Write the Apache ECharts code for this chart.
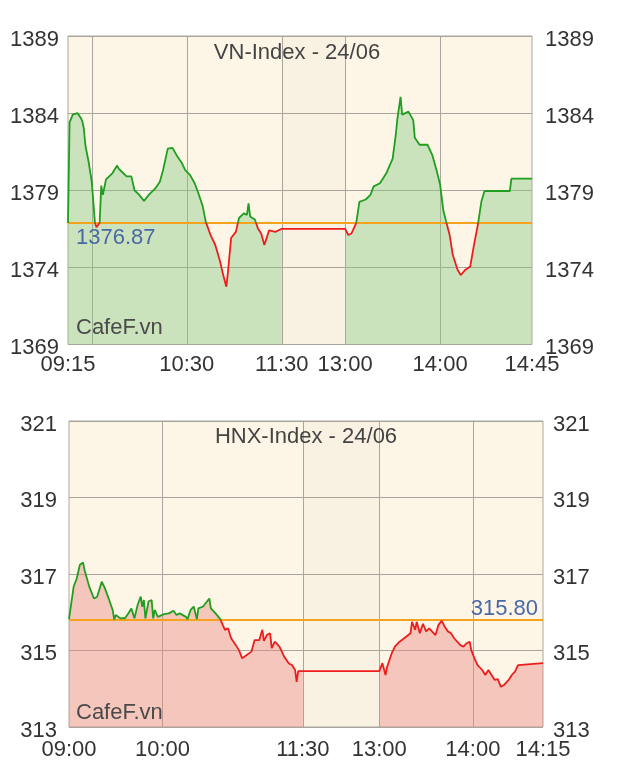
<!DOCTYPE html>
<html><head><meta charset="utf-8">
<script src="https://cdn.jsdelivr.net/npm/echarts@6/dist/echarts.min.js"></script>
<style>html,body{margin:0;padding:0;background:#fff}#c{width:627px;height:782px}</style>
</head><body><div id="c"></div>
<script>
// ---------- VN-Index ----------
const vnTitle = 'VN-Index - 24/06';
const vnRef = 1376.87;
const vnTimes = ['09:15','09:16','09:18','09:21','09:23','09:24','09:25','09:26','09:28','09:30','09:31','09:32','09:33','09:34','09:35','09:36','09:37','09:39','09:43','09:46','09:47','09:49','09:52','09:55','09:57','10:00','10:03','10:06','10:10','10:13','10:15','10:18','10:21','10:24','10:27','10:29','10:32','10:35','10:37','10:40','10:42','10:45','10:48','10:51','10:53','10:55','10:56','10:58','11:01','11:03','11:06','11:08','11:09','11:10','11:13','11:15','11:17','11:19','11:22','11:26','11:30',
  '13:00','13:02','13:04','13:07','13:09','13:13','13:16','13:18','13:22','13:26','13:30','13:32','13:33','13:35','13:36','13:40','13:43','13:44','13:47','13:52','13:55','13:58','14:00','14:02','14:04','14:06','14:08','14:11','14:13','14:16','14:19','14:21','14:24','14:26','14:28','14:44','14:45','14:58'];
const vnValues = [1376.87,1383.4,1383.9,1384.0,1383.7,1383.5,1383.0,1381.9,1380.85,1379.55,1378.25,1376.9,1376.6,1376.7,1376.9,1379.3,1378.7,1379.7,1380.1,1380.6,1380.4,1380.2,1379.9,1379.9,1379.0,1378.7,1378.3,1378.7,1379.1,1379.55,1380.3,1381.7,1381.75,1381.2,1380.75,1380.3,1380.0,1379.45,1378.9,1378.0,1376.95,1376.1,1375.45,1374.4,1373.5,1372.75,1373.7,1375.9,1376.3,1377.2,1377.5,1377.4,1378.15,1377.3,1377.1,1376.5,1376.2,1375.45,1376.4,1376.3,1376.5,
  1376.5,1376.1,1376.2,1376.87,1378.25,1378.4,1378.7,1379.25,1379.45,1380.1,1381.05,1382.6,1383.65,1385.05,1383.9,1384.1,1383.55,1382.4,1381.95,1381.95,1381.3,1380.2,1379.35,1377.7,1376.87,1376.1,1374.8,1373.85,1373.5,1373.85,1374.05,1375.25,1376.87,1378.25,1378.95,1378.95,1379.75,1379.75];
const vnYTicks = [1369,1374,1379,1384,1389];
const vnGridTimes = ['09:30','10:30','11:30','13:00','14:00'];
const vnLabelTimes = ['09:15','10:30','11:30','13:00','14:00','14:58'];
const vnLabelTexts = ['09:15','10:30','11:30','13:00','14:00','14:45'];

// ---------- HNX-Index ----------
const hnxTitle = 'HNX-Index - 24/06';
const hnxRef = 315.80;
const hnxTimes = ['09:00','09:03','09:05','09:07','09:09','09:10','09:13','09:16','09:18','09:21','09:23','09:25','09:28','09:29','09:30','09:33','09:36','09:38','09:40','09:42','09:44','09:46','09:47','09:48','09:49','09:51','09:53','09:54','09:55','09:57','10:01','10:04','10:07','10:09','10:11','10:15','10:16','10:18','10:20','10:22','10:23','10:26','10:30','10:31','10:34','10:37','10:40','10:42','10:44','10:47','10:49','10:51','10:54','10:57','10:59','11:02','11:04','11:05','11:07','11:09','11:10','11:12','11:15','11:18','11:21','11:23','11:25','11:26','11:27','11:30',
  '13:00','13:02','13:04','13:05','13:08','13:10','13:13','13:16','13:20','13:21','13:23','13:24','13:26','13:28','13:30','13:32','13:36','13:38','13:40','13:42','13:44','13:46','13:48','13:52','13:54','13:56','13:58','13:59','14:01','14:03','14:06','14:08','14:10','14:12','14:14','14:16','14:18','14:20','14:23','14:25','14:27','14:29','14:30','14:45'];
const hnxValues = [315.82,316.67,316.89,317.24,317.30,317.1,316.67,316.36,316.4,316.8,316.63,316.41,316.06,315.81,315.93,315.84,315.85,315.97,316.1,315.84,316.19,316.41,316.14,316.32,315.84,316.28,316.32,315.84,316.06,315.88,315.95,315.97,316.04,315.93,315.97,315.88,315.82,316.06,316.15,315.82,316.1,316.15,316.36,316.1,315.97,315.82,315.54,315.58,315.32,315.14,315.01,314.8,314.88,314.97,315.27,315.27,315.54,315.25,315.41,315.45,315.06,315.23,315.1,314.84,314.66,314.62,314.49,314.18,314.46,314.46,
  314.46,314.67,314.36,314.57,314.93,315.1,315.23,315.32,315.45,315.75,315.54,315.75,315.45,315.7,315.5,315.58,315.4,315.67,315.78,315.62,315.5,315.45,315.32,315.14,315.1,315.19,315.23,315.01,314.8,314.62,314.49,314.36,314.49,314.36,314.23,314.25,314.05,314.1,314.23,314.36,314.45,314.62,314.67,314.67];
const hnxYTicks = [313,315,317,319,321];
const hnxGridTimes = ['10:00','11:30','13:00','14:00'];
const hnxLabelTimes = ['09:00','10:00','11:30','13:00','14:00','14:45'];
const hnxLabelTexts = ['09:00','10:00','11:30','13:00','14:00','14:15'];

const FONT = '"Liberation Sans", Arial, Helvetica, sans-serif';
const GREEN = '#1f9e1f', RED = '#ee1d1d', ORANGE = '#f5a31c', REFBLUE = '#4a68a6';
const FILL_UP = 'rgba(133,201,128,0.42)', FILL_DOWN = 'rgba(233,132,128,0.42)';
const LUNCH = 'rgba(180,160,110,0.05)';

function toMin(t){const p=t.split(':').map(Number);return p[0]*60+p[1];}
function mapper(start,lunchUnits){const s=toMin(start);return t=>{const m=toMin(t);return m<=690?m-s:(690-s)+lunchUnits+(m-780);};}
const vnU = mapper('09:15',40);
const hnxU = mapper('09:00',49);

function lineData(times, vals, U){return times.map((t,i)=>[U(t), vals[i]]);}
function areaData(times, vals, U){const out=[];times.forEach((t,i)=>{out.push([U(t), vals[i]]);if(t==='11:30') out.push([U('11:30')+1,'-']);});return out;}

function xAxisCfg(grid, U, gridTimes, labelTimes, labelTexts, margin){
  const lu = labelTimes.map(U);
  return {type:'value', gridIndex:grid, min:U(labelTimes[0]), max:U(labelTimes[labelTimes.length-1]),
    axisLine:{show:false}, axisTick:{show:false, customValues:gridTimes.map(U)},
    axisLabel:{customValues:lu, color:'#333', fontSize:22, fontFamily:FONT, margin:margin,
      formatter:v=>{const i=lu.findIndex(u=>Math.abs(u-v)<0.01);return i>=0?labelTexts[i]:'';}},
    splitLine:{show:true, lineStyle:{color:'#a9a6a0', width:1}}};
}
function yAxisCfg(grid, pos, ticks, margin){
  return {type:'value', gridIndex:grid, position:pos, min:ticks[0], max:ticks[ticks.length-1],
    axisLine:{show:false}, axisTick:{show:false, customValues:ticks},
    axisLabel:{customValues:ticks, color:'#333', fontSize:22, fontFamily:FONT, margin:margin,
      verticalAlign:'top', lineHeight:7, formatter:v=>String(v)},
    splitLine:{show:pos==='left', lineStyle:{color:'#a9a6a0', width:1}}};
}

const chart = echarts.init(document.getElementById('c'), null, {renderer:'canvas'});
const upVN = vnValues[vnValues.length-1] >= vnRef;
const upHNX = hnxValues[hnxValues.length-1] >= hnxRef;

const option = {
  animation:false,
  backgroundColor:'#ffffff',
  grid:[
    {left:68, right:95, top:36, height:308.5, show:true, backgroundColor:'#fdf6e7', borderColor:'#aaa7a0', borderWidth:1},
    {left:69, right:84, top:421, height:306, show:true, backgroundColor:'#fdf6e7', borderColor:'#aaa7a0', borderWidth:1}
  ],
  xAxis:[
    xAxisCfg(0, vnU, vnGridTimes, vnLabelTimes, vnLabelTexts, 9),
    xAxisCfg(1, hnxU, hnxGridTimes, hnxLabelTimes, hnxLabelTexts, 12)
  ],
  yAxis:[
    yAxisCfg(0,'left',vnYTicks,9), yAxisCfg(0,'right',vnYTicks,13),
    yAxisCfg(1,'left',hnxYTicks,12), yAxisCfg(1,'right',hnxYTicks,10)
  ],
  visualMap:[
    {type:'piecewise', show:false, seriesIndex:1, dimension:1,
      pieces:[{min:vnRef, max:vnYTicks[vnYTicks.length-1]+10, color:GREEN},{min:vnYTicks[0]-10, max:vnRef, color:RED}]},
    {type:'piecewise', show:false, seriesIndex:3, dimension:1,
      pieces:[{min:hnxRef, max:hnxYTicks[hnxYTicks.length-1]+10, color:GREEN},{min:hnxYTicks[0]-10, max:hnxRef, color:RED}]}
  ],
  series:[
    {type:'line', xAxisIndex:0, yAxisIndex:0, data:areaData(vnTimes,vnValues,vnU), showSymbol:false, connectNulls:false,
      lineStyle:{width:0}, areaStyle:{color:upVN?FILL_UP:FILL_DOWN, origin:'start', opacity:1}, silent:true,
      markArea:{silent:true, itemStyle:{color:LUNCH}, data:[[{xAxis:vnU('11:30')},{xAxis:vnU('13:00')}]]},
      markLine:{silent:true, symbol:'none', lineStyle:{color:ORANGE, width:2, type:'solid'},
        label:{show:true, position:'insideStartBottom', distance:[8,4], color:REFBLUE, fontSize:22, fontFamily:FONT, formatter:p=>p.value.toFixed(2)},
        data:[{yAxis:vnRef}]}},
    {type:'line', xAxisIndex:0, yAxisIndex:0, data:lineData(vnTimes,vnValues,vnU), showSymbol:false, lineStyle:{width:1.8}, z:5},
    {type:'line', xAxisIndex:1, yAxisIndex:2, data:areaData(hnxTimes,hnxValues,hnxU), showSymbol:false, connectNulls:false,
      lineStyle:{width:0}, areaStyle:{color:upHNX?FILL_UP:FILL_DOWN, origin:'start', opacity:1}, silent:true,
      markArea:{silent:true, itemStyle:{color:LUNCH}, data:[[{xAxis:hnxU('11:30')},{xAxis:hnxU('13:00')}]]},
      markLine:{silent:true, symbol:'none', lineStyle:{color:ORANGE, width:2, type:'solid'},
        label:{show:true, position:'insideEndTop', distance:[5,0], color:REFBLUE, fontSize:22, fontFamily:FONT, formatter:p=>p.value.toFixed(2)},
        data:[{yAxis:hnxRef}]}},
    {type:'line', xAxisIndex:1, yAxisIndex:2, data:lineData(hnxTimes,hnxValues,hnxU), showSymbol:false, lineStyle:{width:1.8}, z:5}
  ],
  graphic:[
    {type:'text', x:297, y:53, style:{text:vnTitle, fill:'#444', font:'22px '+FONT, textAlign:'center', textVerticalAlign:'middle'}, z:20},
    {type:'text', x:306, y:437, style:{text:hnxTitle, fill:'#444', font:'22px '+FONT, textAlign:'center', textVerticalAlign:'middle'}, z:20},
    {type:'text', x:76, y:328, style:{text:'CafeF.vn', fill:'#4a4a4a', font:'22px '+FONT, textAlign:'left', textVerticalAlign:'middle'}, z:20},
    {type:'text', x:76, y:713, style:{text:'CafeF.vn', fill:'#4a4a4a', font:'22px '+FONT, textAlign:'left', textVerticalAlign:'middle'}, z:20}
  ]
};
chart.setOption(option);
</script>
</body></html>
